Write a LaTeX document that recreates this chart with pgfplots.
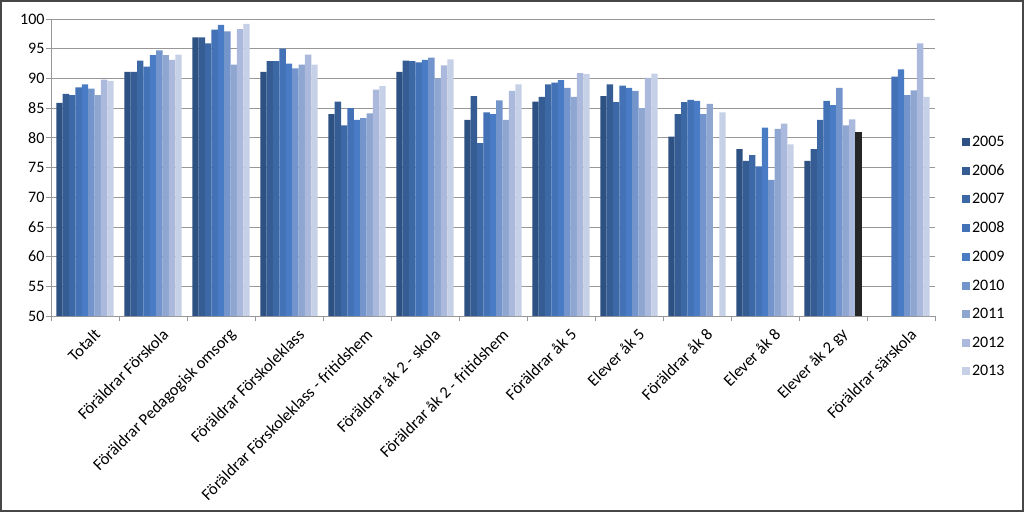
\documentclass[border=0pt]{standalone}
\usepackage{pgfplots}
\pgfplotsset{compat=1.18}
\usepackage{pgfplotstable}
\usepackage{fontspec}
\setmainfont{Carlito}

\definecolor{c05}{HTML}{2E5184}
\definecolor{c06}{HTML}{365D93}
\definecolor{c07}{HTML}{3D68A6}
\definecolor{c08}{HTML}{4472B6}
\definecolor{c09}{HTML}{4A7CC5}
\definecolor{c10}{HTML}{7495CB}
\definecolor{c11}{HTML}{8FA6D1}
\definecolor{c12}{HTML}{ABB9DC}
\definecolor{c13}{HTML}{C6D0E6}
\definecolor{cblk}{HTML}{262626}
\definecolor{gridc}{HTML}{979797}

\pgfplotstableread{
x a b c d e f g h i
0 85.9 87.4 87.2 88.5 89.0 88.3 87.2 89.8 89.6
1 91.1 91.1 93.0 92.0 93.9 94.7 93.9 93.1 94.0
2 96.9 96.9 95.9 98.2 99.0 97.9 92.3 98.3 99.2
3 91.1 92.9 92.9 95.0 92.5 91.7 92.3 94.0 92.3
4 84.0 86.1 82.1 85.0 83.0 83.3 84.1 88.1 88.7
5 91.1 93.0 92.9 92.7 93.1 93.5 90.0 92.2 93.2
6 83.0 87.0 79.1 84.3 84.0 86.3 83.0 87.9 89.0
7 86.1 86.9 89.0 89.3 89.7 88.4 86.9 90.9 90.7
8 87.0 89.0 86.0 88.8 88.4 87.9 85.0 90.1 90.8
9 80.2 84.0 86.0 86.4 86.2 84.0 85.7 nan 84.3
10 78.1 76.1 77.1 75.2 81.7 72.9 81.5 82.4 78.9
11 76.1 78.1 83.0 86.2 85.5 88.4 82.1 83.1 nan
12 nan nan nan 90.3 91.5 87.2 88.0 95.9 86.9
}\data

\begin{document}
\begin{tikzpicture}[x=1pt,y=1pt]
\fill[white] (0,0) rectangle (1024,512);
\draw[line width=2pt, color=black!72] (1,1) rectangle (1023,511);
\begin{axis}[
  at={(51pt,196pt)}, anchor=south west,
  scale only axis, width=884pt, height=297pt,
  ybar, bar width=0.0937,
  xmin=-0.5, xmax=12.5, ymin=50, ymax=100,
  axis x line*=bottom, axis y line*=left,
  axis line style={draw=gridc, line width=0.8pt},
  ytick={50,55,...,100},
  minor ytick={50,55,...,100},
  xtick={0,...,12},
  minor xtick={-0.5,0.5,...,12.5},
  major tick length=0pt, minor tick length=5pt,
  tick align=outside,
  tick style={draw=gridc, line width=0.8pt},
  ymajorgrids, major grid style={draw=gridc, line width=0.8pt},
  /pgf/number format/assume math mode=true,
  yticklabel style={font=\fontsize{16}{18}\selectfont, xshift=-3pt},
  xticklabels={Totalt, Föräldrar Förskola, Föräldrar Pedagogisk omsorg, Föräldrar Förskoleklass, Föräldrar Förskoleklass - fritidshem, Föräldrar åk 2 - skola, Föräldrar åk 2 - fritidshem, Föräldrar åk 5, Elever åk 5, Föräldrar åk 8, Elever åk 8, Elever åk 2 gy, Föräldrar särskola},
  xticklabel style={font=\fontsize{16.5}{18}\selectfont, rotate=45, anchor=east, yshift=-20pt, xshift=1pt},
  legend style={at={(1.027,0.2)}, anchor=west, draw=none, fill=none,
    font=\fontsize{16}{18}\selectfont, row sep=12.7pt},
  legend cell align=left,
  legend image code/.code={\fill[#1] (0pt,-4pt) rectangle (8pt,4pt);},
]
\addplot[fill=c05, draw=none, bar shift=-0.3748] table[x=x,y=a]{\data};
\addplot[fill=c06, draw=none, bar shift=-0.2811] table[x=x,y=b]{\data};
\addplot[fill=c07, draw=none, bar shift=-0.1874] table[x=x,y=c]{\data};
\addplot[fill=c08, draw=none, bar shift=-0.0937] table[x=x,y=d]{\data};
\addplot[fill=c09, draw=none, bar shift=0] table[x=x,y=e]{\data};
\addplot[fill=c10, draw=none, bar shift=0.0937] table[x=x,y=f]{\data};
\addplot[fill=c11, draw=none, bar shift=0.1874] table[x=x,y=g]{\data};
\addplot[fill=c12, draw=none, bar shift=0.2811] table[x=x,y=h]{\data};
\addplot[fill=c13, draw=none, bar shift=0.3748] table[x=x,y=i]{\data};
\addplot[fill=cblk, draw=none, bar shift=0.3748, forget plot] coordinates {(11,81.0)};
\legend{2005,2006,2007,2008,2009,2010,2011,2012,2013}
\end{axis}
\end{tikzpicture}
\end{document}
